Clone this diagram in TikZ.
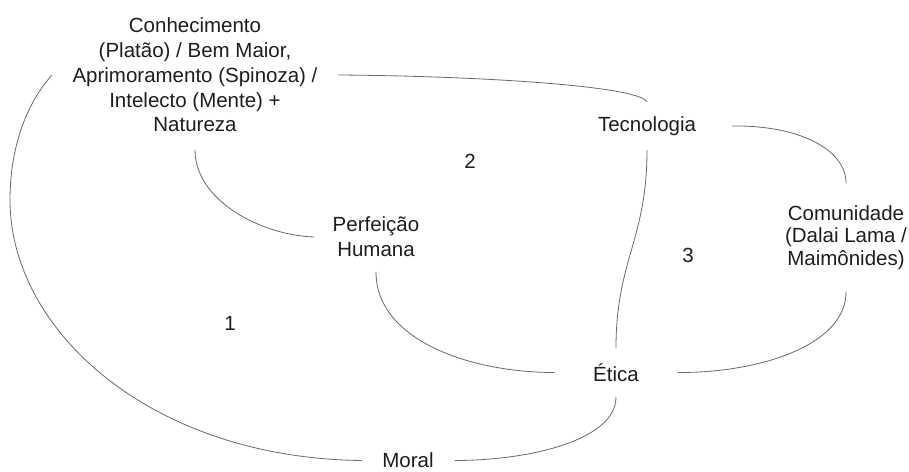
\documentclass[tikz,border=0pt]{standalone}
\usepackage{fontspec}
\setmainfont{Liberation Sans}
\begin{document}
\begin{tikzpicture}[x=1pt,y=-1pt,
  txt/.style={inner sep=0pt, outer sep=0pt, align=center, rectangle,
    font=\fontsize{20.5}{24.8}\selectfont, text={rgb,255:red,30;green,30;blue,30}},
  lbl/.style={inner sep=0pt, font=\fontsize{20.5}{24.8}\selectfont, text={rgb,255:red,30;green,30;blue,30}},
  link/.style={draw={rgb,255:red,105;green,105;blue,105}, line width=0.8pt}]
\useasboundingbox (0,0) rectangle (909,471);
\node[txt, minimum width=286pt, minimum height=150pt] (con) at (195,75)
  {Conhecimento\\(Platão) / Bem Maior,\\Aprimoramento (Spinoza) /\\Intelecto (Mente) +\\Natureza};
\node[txt, minimum width=170pt, minimum height=48pt] (tec) at (647,126) {Tecnologia};
\node[txt, minimum width=124pt, minimum height=70pt] (per) at (376,237) {Perfeição\\Humana};
\node[txt, minimum width=124pt, minimum height=109pt,
  font=\fontsize{20.5}{22.3}\selectfont] (com) at (846,237.5) {Comunidade\\(Dalai Lama /\\Maimônides)};
\node[txt, minimum width=123pt, minimum height=49pt] (eti) at (616,372.5) {Ética};
\node[txt, minimum width=93pt, minimum height=26pt] (mor) at (408,460.5) {Moral};
\node[lbl] (n1) at (230,323) {1};
\node[lbl] (n2) at (470,161) {2};
\node[lbl] (n3) at (688,255) {3};
\coordinate (cv) at (10,200);
\draw[link] (con.east) .. controls (480,76) and (640,86) .. (tec.north);
\draw[link] (tec.east) .. controls (800,125) and (846,150) .. (com.north);
\draw[link] (com.south) .. controls (846,345) and (760,373) .. (eti.east);
\draw[link] (tec.south) .. controls (647,240) and (616,260) .. (eti.north);
\draw[link] (con.south) .. controls (195,200) and (260,235) .. (per.west);
\draw[link] (per.south) .. controls (376,340) and (470,372.5) .. (eti.west);
\draw[link] (eti.south) .. controls (616,440) and (530,460.5) .. (mor.east);
\draw[link] (con.west) .. controls (25,105) and (10,150) .. (cv)
  .. controls (10,330) and (150,458) .. (mor.west);
\end{tikzpicture}
\end{document}
